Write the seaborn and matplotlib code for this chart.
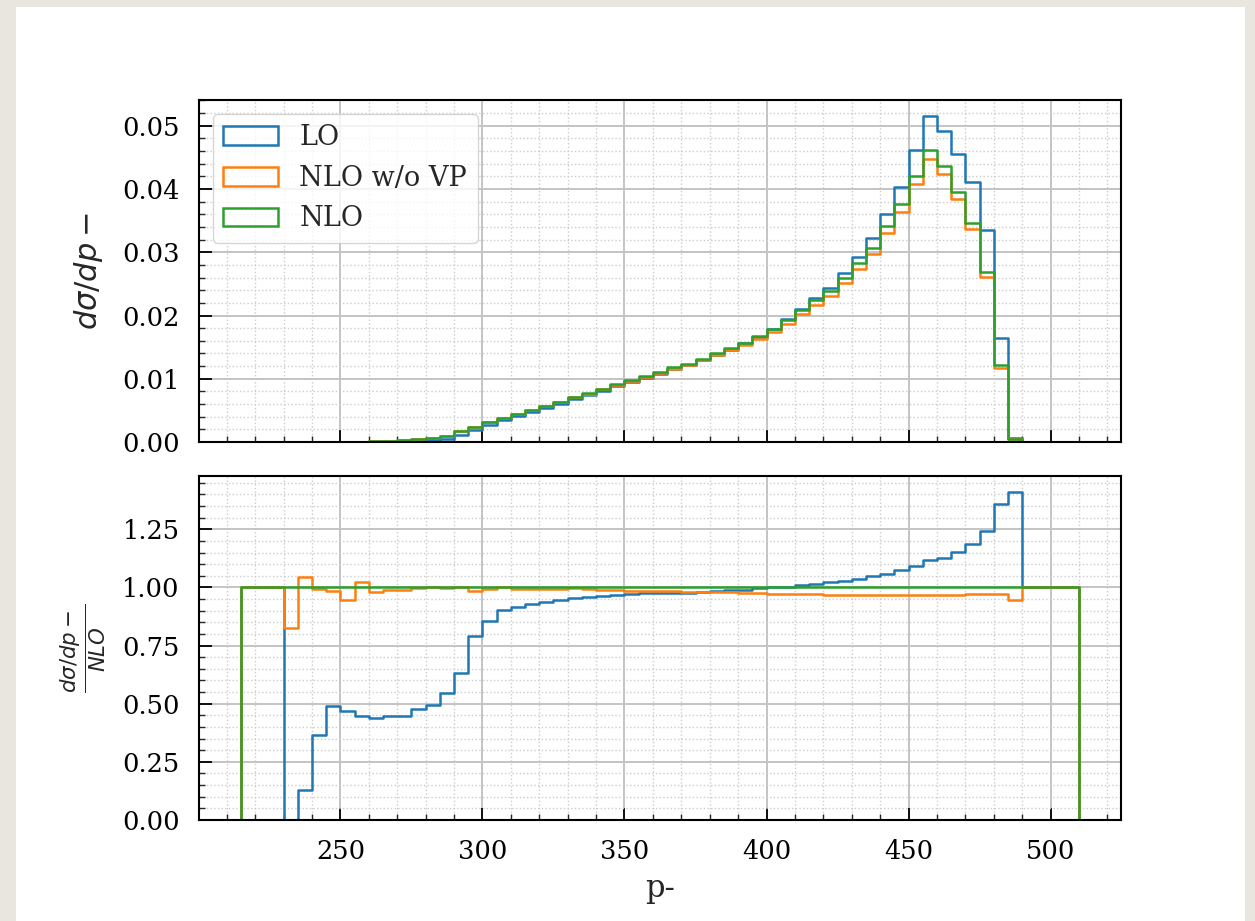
import numpy as np
import seaborn as sns
import matplotlib.pyplot as plt
from matplotlib.patches import Rectangle
from matplotlib.ticker import AutoMinorLocator

# ---------------------------------------------------------------------
# Data: histograms of p- in bins of width 5 from 215 to 510
# ---------------------------------------------------------------------
p_min, p_max, p_width = 215, 510, 5

# d sigma / dp-  (top panel)
lo = [0, 0, 0, 0, 0.000001, 0.000004, 0.00001, 0.000014, 0.000027, 0.000044,
      0.00007, 0.00012, 0.00019, 0.0003, 0.0005, 0.0011, 0.0019, 0.0027, 0.0034, 0.0041,
      0.0047, 0.0054, 0.0060, 0.0068, 0.0074, 0.0081, 0.0088, 0.0095, 0.0101, 0.0108,
      0.0115, 0.0121, 0.0129, 0.0138, 0.0146, 0.0156, 0.0166, 0.0179, 0.0194, 0.0210,
      0.0227, 0.0243, 0.0267, 0.0293, 0.0322, 0.0361, 0.0404, 0.0461, 0.0515, 0.0492,
      0.0455, 0.0411, 0.0335, 0.0164, 0.0007, 0, 0, 0, 0]
nlo_novp = [0, 0, 0, 0.000004, 0.00001, 0.00001, 0.00002, 0.000028, 0.00006, 0.0001,
            0.00016, 0.00027, 0.0004, 0.0006, 0.0009, 0.0017, 0.0024, 0.0031, 0.0038, 0.0045,
            0.0051, 0.0057, 0.0063, 0.0071, 0.0076, 0.0083, 0.0090, 0.0097, 0.0102, 0.0109,
            0.0116, 0.0122, 0.0129, 0.0137, 0.0145, 0.0153, 0.0163, 0.0174, 0.0187, 0.0202,
            0.0217, 0.0231, 0.0251, 0.0274, 0.0297, 0.0330, 0.0364, 0.0408, 0.0447, 0.0423,
            0.0384, 0.0337, 0.0261, 0.0117, 0.0005, 0, 0, 0, 0]
nlo = [0, 0, 0, 0.000005, 0.00001, 0.00001, 0.00002, 0.00003, 0.00006, 0.0001,
       0.00016, 0.00027, 0.0004, 0.0006, 0.0009, 0.0017, 0.0024, 0.0031, 0.0038, 0.0045,
       0.0051, 0.0057, 0.0063, 0.0071, 0.0077, 0.0084, 0.0091, 0.0098, 0.0104, 0.0111,
       0.0118, 0.0124, 0.0132, 0.0140, 0.0148, 0.0157, 0.0167, 0.0179, 0.0193, 0.0208,
       0.0224, 0.0238, 0.0259, 0.0283, 0.0307, 0.0341, 0.0376, 0.0421, 0.0461, 0.0436,
       0.0396, 0.0347, 0.0269, 0.0121, 0.0005, 0, 0, 0, 0]

# ratios to NLO  (bottom panel, empty bins shown as 1)
ratio_lo = [1, 1, 1, 0, 0.128, 0.367, 0.488, 0.468, 0.445, 0.438,
            0.445, 0.447, 0.478, 0.496, 0.546, 0.634, 0.793, 0.856, 0.903, 0.915,
            0.928, 0.939, 0.947, 0.954, 0.958, 0.962, 0.967, 0.971, 0.974, 0.975,
            0.977, 0.978, 0.981, 0.984, 0.987, 0.991, 0.996, 1.001, 1.004, 1.009,
            1.014, 1.022, 1.029, 1.036, 1.048, 1.058, 1.074, 1.094, 1.117, 1.127,
            1.152, 1.185, 1.243, 1.358, 1.409, 1, 1, 1, 1]
ratio_novp = [1, 1, 1, 0.827, 1.045, 0.993, 0.983, 0.944, 1.023, 0.980,
              0.987, 0.990, 0.998, 1.004, 0.996, 1.001, 0.983, 0.992, 1.004, 0.993,
              0.995, 0.993, 0.995, 0.997, 0.992, 0.988, 0.988, 0.986, 0.985, 0.984,
              0.983, 0.982, 0.981, 0.980, 0.979, 0.977, 0.975, 0.972, 0.971, 0.970,
              0.970, 0.969, 0.969, 0.969, 0.969, 0.969, 0.969, 0.969, 0.969, 0.969,
              0.969, 0.970, 0.970, 0.971, 0.947, 1, 1, 1, 1]
ratio_nlo = [1.0] * 59

labels = ['LO', 'NLO w/o VP', 'NLO']
colors = ['#1f77b4', '#ff7f0e', '#2ca02c']

centers = np.arange(p_min, p_max, p_width) + p_width / 2

# ---------------------------------------------------------------------
# Style
# ---------------------------------------------------------------------
sns.set_style('ticks')
plt.rcParams['font.family'] = ['DejaVu Serif']
plt.rcParams['mathtext.fontset'] = 'dejavusans'
plt.rcParams['font.size'] = 18.5
plt.rcParams['axes.labelsize'] = 22
plt.rcParams['axes.linewidth'] = 1.5
plt.rcParams['axes.edgecolor'] = 'black'

fig = plt.figure(figsize=(12.55, 9.21), dpi=100, facecolor='#e8e6df')
fig.add_artist(Rectangle((16 / 1255, 0), 1229 / 1255, 914 / 921,
                         transform=fig.transFigure, facecolor='white',
                         edgecolor='none', zorder=0))

ax_top = fig.add_axes([0.1586, 0.5201, 0.7346, 0.3713])
ax_bot = fig.add_axes([0.1586, 0.1097, 0.7346, 0.3735], sharex=ax_top)


def step_hist(ax, values, color, label):
    sns.histplot(x=centers, weights=np.asarray(values, dtype=float),
                 binwidth=p_width, binrange=(p_min, p_max), element='step',
                 fill=True, facecolor='none', color=color, linewidth=1.8,
                 label=label, ax=ax)


for vals, c, lab in zip([lo, nlo_novp, nlo], colors, labels):
    step_hist(ax_top, vals, c, lab)
for vals, c, lab in zip([ratio_lo, ratio_novp, ratio_nlo], colors, labels):
    step_hist(ax_bot, vals, c, lab)

for ax in (ax_top, ax_bot):
    ax.set_facecolor('white')
    ax.set_axisbelow(True)
    ax.xaxis.set_minor_locator(AutoMinorLocator(5))
    ax.yaxis.set_minor_locator(AutoMinorLocator(5))
    ax.grid(which='major', color='#c4c4c4', linewidth=1.4)
    ax.grid(which='minor', color='#cccccc', linewidth=1.0, linestyle=':')
    ax.tick_params(which='major', direction='in', length=9, width=1.3,
                   pad=14, labelsize=18.5, colors='black')
    ax.tick_params(which='minor', direction='in', length=4.5, width=1.0)
    for sp in ax.spines.values():
        sp.set_visible(True)
        sp.set_linewidth(1.5)

ax_top.tick_params(labelbottom=False)
ax_top.set_xlabel('')
ax_top.set_ylabel(r'$d\sigma/dp-$', labelpad=12)
ax_bot.set_ylabel(r'$\frac{d\sigma/dp-}{NLO}$', labelpad=10)
ax_bot.set_xlabel('p-', labelpad=6)

ax_top.legend(loc='upper left', fontsize=19.5)

fig.savefig('out.png', dpi=100, facecolor=fig.get_facecolor())
